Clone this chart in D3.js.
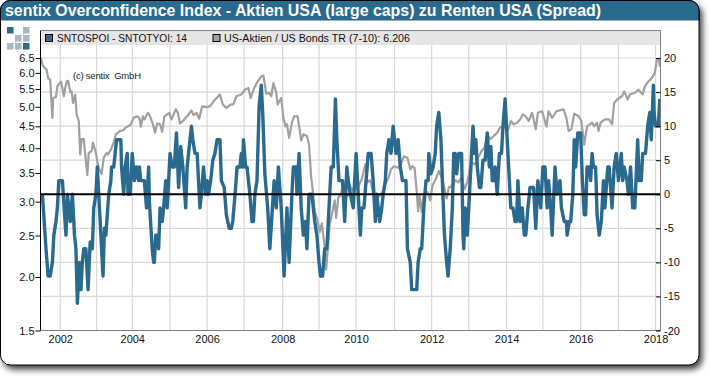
<!DOCTYPE html>
<html>
<head>
<meta charset="utf-8">
<script src="https://cdnjs.cloudflare.com/ajax/libs/d3/7.8.5/d3.min.js"></script>
<style>
  html, body { margin: 0; padding: 0; background: #fff; }
  svg { display: block; font-family: "Liberation Sans", Arial, sans-serif; }
  .axis text { font-size: 11px; fill: #111; }
  .axis path { display: none; }
  .axis line { stroke: #000; }
</style>
</head>
<body>
<div id="chart"></div>
<script>
const TITLE = "sentix Overconfidence Index - Aktien USA (large caps) zu Renten USA (Spread)";
const LEGEND_SPREAD = "SNTOSPOI - SNTOTYOI: 14";
const LEGEND_RATIO = "US-Aktien / US Bonds TR (7-10): 6.206";
const COPYRIGHT = "(c) sentix  GmbH";

// x is the running week of the chart, the years are not evenly spaced on it
const WEEKS_TOTAL = 869;
const yearLabels = [2002, 2003, 2004, 2005, 2006, 2007, 2008, 2009, 2010, 2011, 2012, 2013, 2014, 2015, 2016, 2017, 2018];
const yearWeeks = [27, 78, 128, 181, 233, 285, 339, 390, 442, 496, 548, 600, 653, 704, 757, 810, 862];
const leftTicks = [1.5, 2, 2.5, 3, 3.5, 4, 4.5, 5, 5.5, 6, 6.5];
const rightTicks = [-20, -15, -10, -5, 0, 5, 10, 15, 20];

// [week, spread]
const spread = [[2,0],[7,-8],[10,-12],[13,-12],[16,-10],[18,-6],[21,-4],[23,-2],[25,2],[30,2],[35,-6],[37,0],[41,-4],[44,0],[47,-6],[49,-8],[51,-16],[54,-10],[56,-14],[58,-10],[60,-8],[63,-8],[66,-14],[69,-7],[72,-8],[74,-2],[77,0],[79,4],[82,-2],[84,-6],[87,-12],[89,-5],[91,-6],[95,0],[98,2],[99,4],[102,4],[106,8],[112,8],[113,4],[116,0],[118,4],[121,6],[122,0],[125,0],[128,6],[131,2],[134,4],[137,2],[138,4],[140,2],[145,2],
  [148,-2],[151,4],[152,-1],[156,-8],[158,-10],[159,-10],[161,-6],[164,-6],[165,-8],[167,-2],[170,-4],[172,-2],[175,2],[177,-2],[180,4],[181,6],[184,4],[187,4],[190,9],[193,1],[196,7],[199,4],[203,-2],[205,4],[209,8],[211,10],[213,8],[216,6],[219,6],[223,-2],[225,0],[228,4],[231,0],[233,2],[235,0],[238,2],[241,5],[244,6],[247,8],[251,8],[253,2],[257,1],[260,-3],[264,-5],[267,-5],[269,-4],[273,1],[275,4],[279,4],[281,6],[283,4],[284,8],[287,4],[289,4],
  [293,0],[296,-4],[298,-4],[300,0],[303,2],[306,13],[309,16],[311,12],[314,3],[318,-2],[321,-8],[324,-3],[327,2],[330,-2],[333,4],[337,-2],[339,-7],[341,-12],[345,-2],[348,-10],[352,0],[354,4],[358,4],[359,0],[362,6],[365,-2],[368,-6],[371,-4],[373,-8],[376,0],[380,0],[384,-4],[387,-6],[390,-10],[392,-12],[395,-12],[398,-8],[401,-8],[404,-2],[407,4],[410,4],[413,14],[415,8],[418,2],[423,2],[426,-4],[429,4],[431,2],
  [434,0],[438,-2],[440,2],[442,6],[445,0],[448,-6],[450,-2],[453,-2],[456,2],[459,6],[463,6],[466,2],[469,-4],[471,0],[475,-4],[478,-2],[480,0],[483,2],[485,6],[488,8],[491,6],[494,10],[498,6],[501,8],[504,4],[507,2],[512,2],[514,-8],[518,-10],[520,-14],[524,-14],[527,-14],[529,-10],[532,-8],[534,-8],[537,-2],[540,2],[543,2],[544,6],[547,3],[550,4],[553,6],[555,10],[558,12],[561,8],[563,2],[566,-6],[569,-10],[571,-12],[574,-8],[577,-2],
  [579,6],[581,6],[583,3],[586,6],[590,6],[592,-6],[593,-8],[595,-2],[598,-6],[600,-2],[603,4],[606,10],[608,6],[610,8],[612,4],[615,1],[617,1],[620,5],[623,5],[626,9],[629,4],[631,7],[633,2],[636,2],[637,4],[640,0],[643,6],[646,6],[648,10],[651,14],[654,8],[657,2],[659,-2],[662,-2],[665,-4],[667,-4],[669,2],[672,-4],[675,-2],[678,-6],[680,-6],[683,-2],[686,1],[691,1],[694,-5],[697,2],[701,-2],[704,4],[707,4],[710,-2],[712,2],[715,-2],[717,-6],[721,4],
  [724,0],[728,2],[730,-2],[734,-4],[737,-4],[738,-6],[741,-4],[743,-4],[746,0],[748,8],[750,4],[753,9],[757,9],[759,3],[762,-3],[764,-3],[766,4],[769,4],[771,2],[773,6],[775,4],[778,4],[780,-3],[783,-6],[786,-4],[789,2],[791,-2],[795,4],[797,4],[801,-2],[804,4],[807,6],[810,2],[814,6],[816,2],[818,4],[822,2],[824,0],[827,4],[830,-2],[833,-2],[837,8],[839,2],[842,2],[844,6],[848,6],[851,10],[854,12],[856,8],[859,16],[860,12],[862,10],[866,10],[868,14]];

// [week, ratio]
const ratio = [[0,6.5],[2,6.27],[5,6.16],[8,6.1],[10,5.84],[13,5.78],[14,5.34],[16,4.71],[17,5.24],[21,5.27],[23,5.58],[25,5.65],[28,5.72],[30,5.53],[32,5.29],[34,5.53],[36,5.73],[38,5.75],[41,5.41],[43,5.43],[45,5.1],[48,5.34],[50,4.8],[53,4.63],[55,3.87],[57,4.2],[60,4.2],[62,3.87],[65,3.46],[67,3.9],[71,3.94],[73,4.12],[77,3.9],[79,3.73],[81,3.6],[85,3.48],[88,3.8],[92,3.9],[94,3.87],[98,3.97],[102,4.12],[105,4.31],[111,4.39],[115,4.4],[119,4.47],[122,4.5],[126,4.55],[130,4.71],[134,4.75],[138,4.71],[140,4.49],[143,4.75],
  [145,4.67],[150,4.84],[153,4.75],[157,4.55],[160,4.35],[163,4.57],[167,4.55],[170,4.37],[173,4.75],[180,4.84],[183,4.67],[189,4.93],[192,4.84],[195,4.57],[199,4.63],[205,4.75],[211,4.9],[214,4.78],[218,4.84],[222,4.69],[226,5.01],[232,4.99],[237,5.01],[242,5.15],[251,5.34],[255,5.06],[260,4.97],[266,5.06],[270,5.07],[274,5.29],[281,5.34],[286,5.48],[291,5.53],
  [294,5.24],[299,5.53],[304,5.73],[309,5.89],[312,5.91],[316,5.36],[320,5.39],[323,5.29],[326,5.68],[330,5.39],[332,5.06],[337,5.24],[340,4.71],[343,4.5],[345,4.55],[348,4.23],[352,4.59],[355,4.75],[360,4.75],[365,4.17],[368,4.31],[373,4.27],[376,4.08],[379,3.42],[381,3.21],[384,2.85],[387,2.75],[391,2.55],[394,2.67],[398,2.35],[400,2.08],[402,2.29],[405,2.65],[408,2.8],[412,3.02],[414,2.75],[417,3.07],[420,3.1],[423,3.24],[428,3.07],[433,3.13],
  [434,3.24],[439,3.18],[446,3.27],[450,3.39],[455,3.67],[458,3.33],[462,3.37],[466,3.13],[470,3.02],[479,3.16],[484,3.33],[487,3.39],[491,3.57],[495,3.63],[501,3.6],[505,3.67],[509,3.83],[514,3.8],[518,3.57],[521,3.63],[524,3.6],[527,3.18],[529,2.85],[531,3.1],[534,2.84],[537,3.13],[542,3.16],[546,3.02],[549,3.27],[554,3.39],[558,3.54],[563,3.39],[569,3.05],[572,3.24],[578,3.27],
  [581,3.37],[586,3.33],[590,3.42],[594,3.21],[598,3.33],[601,3.54],[605,3.7],[609,3.67],[613,3.8],[618,3.94],[622,4.01],[626,4.31],[630,4.2],[635,4.27],[640,4.35],[644,4.47],[649,4.5],[655,4.4],[659,4.63],[663,4.55],[668,4.59],[672,4.67],[676,4.8],[680,4.75],[684,4.63],[689,4.84],[694,4.43],[697,4.84],[703,4.88],[709,4.49],[712,4.88],[717,4.71],[723,4.88],
  [733,4.93],[737,4.71],[740,4.39],[744,4.43],[748,4.82],[754,4.75],[758,4.63],[762,4.08],[766,4.5],[773,4.59],[776,4.5],[780,4.59],[782,4.39],[785,4.59],[791,4.67],[797,4.67],[801,4.55],[804,5.1],[808,5.2],[815,5.29],[818,5.43],[823,5.2],[826,5.34],[833,5.39],[838,5.48],[844,5.34],[847,5.58],[852,5.73],[857,5.84],[861,6.0],[864,6.44],[867,6.44],[868,6.206]];

const logoCells = [
  { col: 0, row: 0, dark: true }, { col: 2, row: 0, dark: false },
  { col: 1, row: 1, dark: false }, { col: 2, row: 1, dark: false },
  { col: 0, row: 2, dark: false }, { col: 1, row: 2, dark: false }, { col: 2, row: 2, dark: true }
];

const BLUE = "#2a6a8e";
const GREY = "#a0a0a0";
const GRID = "#d9d9d9";

const width = 710, height = 376;
const plot = { left: 41, right: 660.5, top: 30.5, bottom: 330.5, scaleTop: 58 };

const svg = d3.select("#chart").append("svg")
  .attr("width", width)
  .attr("height", height);

// ---- card with shadow ----
const defs = svg.append("defs");
defs.append("filter").attr("id", "cardShadow")
  .attr("x", "-5%").attr("y", "-5%").attr("width", "110%").attr("height", "112%")
  .append("feDropShadow")
  .attr("dx", 3).attr("dy", 4).attr("stdDeviation", 3)
  .attr("flood-color", "#000").attr("flood-opacity", 0.75);
defs.append("clipPath").attr("id", "titleClip")
  .append("rect").attr("x", 0).attr("y", 0).attr("width", width).attr("height", 20.5);
defs.append("clipPath").attr("id", "plotClip")
  .append("rect")
  .attr("x", plot.left).attr("y", plot.top)
  .attr("width", plot.right - plot.left).attr("height", plot.bottom - plot.top);

svg.append("rect")
  .attr("x", 0.5).attr("y", 0.5)
  .attr("width", 698.5).attr("height", 364.5)
  .attr("rx", 10)
  .attr("fill", "#fff")
  .attr("stroke", "#000")
  .attr("filter", "url(#cardShadow)");

svg.append("rect")
  .attr("x", 0.5).attr("y", 0.5)
  .attr("width", 698.5).attr("height", 364.5)
  .attr("rx", 10)
  .attr("fill", BLUE)
  .attr("stroke", "#000")
  .attr("clip-path", "url(#titleClip)");

svg.append("text")
  .attr("x", 5).attr("y", 16)
  .attr("fill", "#fff")
  .attr("font-size", 16)
  .attr("font-weight", "bold")
  .attr("textLength", 596)
  .attr("lengthAdjust", "spacingAndGlyphs")
  .text(TITLE);

// ---- logo ----
const logoStep = d3.scalePoint().domain([0, 1, 2]).range([7, 23]);
svg.selectAll("rect.logo")
  .data(logoCells)
  .enter().append("rect")
  .attr("class", "logo")
  .attr("x", d => logoStep(d.col))
  .attr("y", d => logoStep(d.row) + 20)
  .attr("width", 6.5).attr("height", 6.5)
  .attr("fill", d => d.dark ? BLUE : "#a8b8c4");

// ---- scales ----
const x = d3.scaleLinear().domain([0, WEEKS_TOTAL]).range([plot.left, plot.right]);
const yLeft = d3.scaleLog().domain([1.5, 6.5]).range([plot.bottom, plot.scaleTop]);
const yRight = d3.scaleLinear().domain([-20, 20]).range([plot.bottom, plot.scaleTop]);

// ---- grid ----
const grid = svg.append("g").attr("stroke", GRID).attr("stroke-width", 1.2);
grid.selectAll("line.v")
  .data(yearWeeks)
  .enter().append("line")
  .attr("x1", d => x(d)).attr("x2", d => x(d))
  .attr("y1", plot.top).attr("y2", plot.bottom);
grid.selectAll("line.h")
  .data(rightTicks.filter(d => d !== -20 && d !== 0))
  .enter().append("line")
  .attr("x1", plot.left).attr("x2", plot.right)
  .attr("y1", d => yRight(d)).attr("y2", d => yRight(d));

// legend band sits over the grid, lets it shine through a little
svg.append("rect")
  .attr("x", plot.left).attr("y", plot.top)
  .attr("width", plot.right - plot.left).attr("height", 14.5)
  .attr("fill", "#e3e3e3")
  .attr("fill-opacity", 0.92);

svg.append("text")
  .attr("x", 73).attr("y", 79)
  .attr("font-size", 9.5)
  .attr("fill", "#222")
  .attr("textLength", 68)
  .style("white-space", "pre")
  .text(COPYRIGHT);

// ---- series ----
const series = svg.append("g").attr("clip-path", "url(#plotClip)");

series.append("path")
  .datum(ratio)
  .attr("fill", "none")
  .attr("stroke", GREY)
  .attr("stroke-width", 2.2)
  .attr("stroke-linejoin", "round")
  .attr("d", d3.line().x(d => x(d[0])).y(d => yLeft(d[1])));

series.append("path")
  .datum(spread)
  .attr("fill", "none")
  .attr("stroke", BLUE)
  .attr("stroke-width", 3.4)
  .attr("stroke-linejoin", "round")
  .attr("d", d3.line().x(d => x(d[0])).y(d => yRight(d[1])));

svg.append("line")
  .attr("x1", plot.left).attr("x2", plot.right)
  .attr("y1", yRight(0)).attr("y2", yRight(0))
  .attr("stroke", "#000")
  .attr("stroke-width", 2);

// ---- frame ----
const frame = svg.append("g").attr("stroke", "#808080").attr("stroke-width", 1);
frame.append("line").attr("x1", plot.left).attr("x2", plot.right).attr("y1", plot.top).attr("y2", plot.top);
frame.append("line").attr("x1", plot.left).attr("x2", plot.right).attr("y1", plot.bottom).attr("y2", plot.bottom);
frame.append("line").attr("x1", plot.right).attr("x2", plot.right).attr("y1", plot.top).attr("y2", plot.bottom);
svg.append("line")
  .attr("x1", plot.left - 0.5).attr("x2", plot.left - 0.5)
  .attr("y1", plot.top).attr("y2", plot.bottom)
  .attr("stroke", "#000");

// ---- axes ----
svg.append("g").attr("class", "axis")
  .attr("transform", `translate(${plot.left - 0.5},0)`)
  .call(d3.axisLeft(yLeft).tickValues(leftTicks).tickFormat(d3.format(".1f")).tickSize(5).tickPadding(1));

svg.append("g").attr("class", "axis")
  .attr("transform", `translate(${plot.right},0)`)
  .call(d3.axisRight(yRight).tickValues(rightTicks).tickFormat(d => d).tickSize(-4.5).tickPadding(3.5));

svg.append("g").attr("class", "axis")
  .attr("transform", `translate(0,${plot.bottom})`)
  .call(d3.axisBottom(x)
    .tickValues(yearWeeks.filter((d, i) => i % 2 === 0))
    .tickFormat(d => yearLabels[yearWeeks.indexOf(d)])
    .tickSize(0).tickPadding(4.5));

// ---- legend ----
const legendItems = [
  { swatch: 45, text: 57, label: LEGEND_SPREAD, color: BLUE, len: 130 },
  { swatch: 212.5, text: 224, label: LEGEND_RATIO, color: GREY, len: 186 }
];
const legend = svg.append("g");
legend.selectAll("rect")
  .data(legendItems)
  .enter().append("rect")
  .attr("x", d => d.swatch + 0.5).attr("y", 34.5)
  .attr("width", 7).attr("height", 7)
  .attr("fill", d => d.color)
  .attr("stroke", "#000");
legend.selectAll("text")
  .data(legendItems)
  .enter().append("text")
  .attr("x", d => d.text).attr("y", 42)
  .attr("font-size", 11)
  .attr("fill", "#111")
  .attr("textLength", d => d.len)
  .attr("lengthAdjust", "spacingAndGlyphs")
  .text(d => d.label);
</script>
</body>
</html>
